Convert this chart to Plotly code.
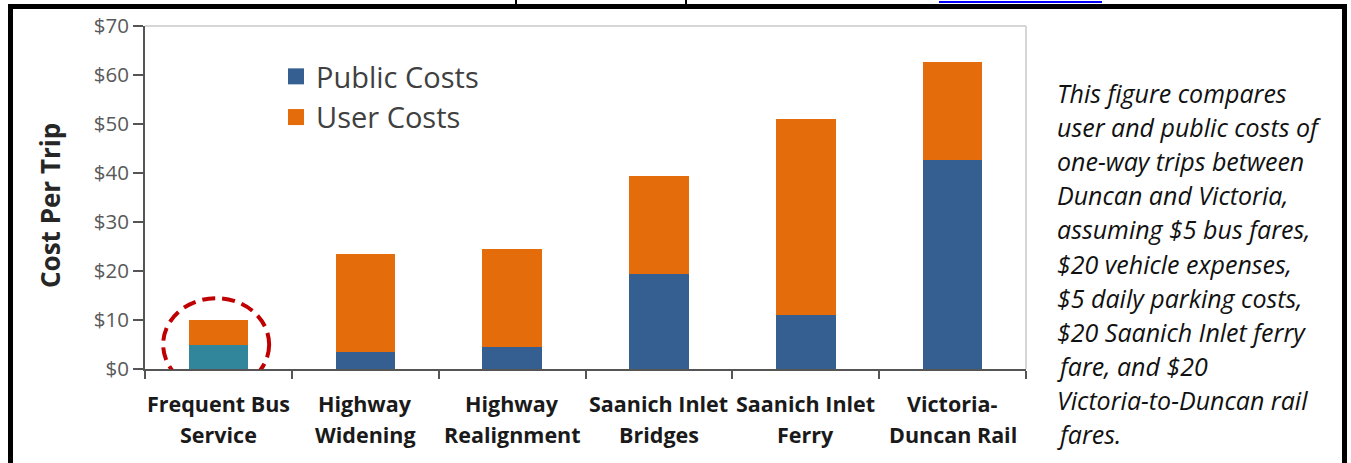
import plotly.graph_objects as go

W, H = 1351, 463

categories = ["Frequent Bus Service", "Highway Widening", "Highway Realignment",
              "Saanich Inlet Bridges", "Saanich Inlet Ferry", "Victoria-Duncan Rail"]
label_line1 = ["Frequent Bus", "Highway", "Highway", "Saanich Inlet", "Saanich Inlet", "Victoria-"]
label_line2 = ["Service", "Widening", "Realignment", "Bridges", "Ferry", "Duncan Rail"]
public_costs = [5.0, 3.6, 4.5, 19.4, 11.1, 42.7]
user_costs = [5.0, 20.0, 20.0, 20.0, 40.0, 20.0]
y_ticks = [0, 10, 20, 30, 40, 50, 60, 70]

note_lines = [
    "This figure compares",
    "user and public costs of",
    "one-way trips between",
    "Duncan and Victoria,",
    "assuming $5 bus fares,",
    "$20 vehicle expenses,",
    "$5 daily parking costs,",
    "$20 Saanich Inlet ferry",
    "fare, and $20",
    "Victoria-to-Duncan rail",
    "fares.",
]

BLUE = "#365F91"
TEAL = "#31869B"
ORANGE = "#E46C0A"
FONT = "Open Sans"


def px(x):
    return x / W


def py(y):
    return 1 - y / H


public_colors = [TEAL] + [BLUE] * (len(categories) - 1)

fig = go.Figure()
fig.add_trace(go.Bar(x=categories, y=public_costs, marker=dict(color=public_colors, line=dict(width=0)),
                     name="Public Costs", showlegend=False))
fig.add_trace(go.Bar(x=categories, y=user_costs, marker=dict(color=ORANGE, line=dict(width=0)),
                     name="User Costs", showlegend=False))
# legend proxies
fig.add_trace(go.Scatter(x=[None], y=[None], mode="markers", name="Public Costs", legendgroup="a",
                         marker=dict(symbol="square", size=17, color=BLUE)))
fig.add_trace(go.Scatter(x=[None], y=[None], mode="markers", name="User Costs", legendgroup="b",
                         marker=dict(symbol="square", size=17, color=ORANGE)))

annotations = []
for c, l1, l2 in zip(categories, label_line1, label_line2):
    annotations.append(dict(x=c, xref="x", y=py(403), yref="paper", text="<b>%s</b>" % l1,
                            showarrow=False, font=dict(family=FONT, size=21.5, color="#1a1a1a"),
                            xanchor="center", yanchor="middle"))
    annotations.append(dict(x=c, xref="x", y=py(434), yref="paper", text="<b>%s</b>" % l2,
                            showarrow=False, font=dict(family=FONT, size=21.5, color="#1a1a1a"),
                            xanchor="center", yanchor="middle"))

annotations.append(dict(x=px(50), y=py(206), xref="paper", yref="paper", text="<b>Cost Per Trip</b>",
                        textangle=-90, showarrow=False, font=dict(family=FONT, size=26, color="#262626"),
                        xanchor="center", yanchor="middle"))

for i, line in enumerate(note_lines):
    annotations.append(dict(x=px(1055), y=py(93 + i * 34.1), xref="paper", yref="paper", text="<i>%s</i>" % line,
                            showarrow=False, font=dict(family=FONT, size=25, color="#111111"),
                            xanchor="left", yanchor="middle"))

shapes = [
    # light gray top/right border of plot area
    dict(type="line", xref="paper", yref="paper", x0=px(145), x1=px(1026), y0=py(26), y1=py(26),
         line=dict(color="#C8C8C8", width=1.5)),
    dict(type="line", xref="paper", yref="paper", x0=px(1026), x1=px(1026), y0=py(26), y1=py(369),
         line=dict(color="#C8C8C8", width=1.5)),
    # highlight ellipse around the bus bar
    dict(type="circle", xref="x", yref="y", x0=-0.377, x1=0.345, y0=-4.4, y1=14.5,
         line=dict(color="#C00000", width=4, dash="13px,7px")),
    # outer frame
    dict(type="line", xref="paper", yref="paper", x0=px(8), x1=px(1347), y0=py(6.5), y1=py(6.5),
         line=dict(color="black", width=5)),
    dict(type="line", xref="paper", yref="paper", x0=px(10.5), x1=px(10.5), y0=py(4), y1=py(470),
         line=dict(color="black", width=5)),
    dict(type="line", xref="paper", yref="paper", x0=px(1344.5), x1=px(1344.5), y0=py(4), y1=py(470),
         line=dict(color="black", width=5)),
    # fragments of the cut-off caption above the frame
    dict(type="line", xref="paper", yref="paper", x0=px(939), x1=px(1102), y0=py(2), y1=py(2),
         line=dict(color="#0000FF", width=2)),
    dict(type="line", xref="paper", yref="paper", x0=px(516), x1=px(516), y0=py(0), y1=py(4),
         line=dict(color="black", width=2)),
    dict(type="line", xref="paper", yref="paper", x0=px(686), x1=px(686), y0=py(0), y1=py(4),
         line=dict(color="black", width=2)),
]

fig.update_layout(
    width=W, height=H,
    margin=dict(l=0, r=0, t=0, b=0, pad=0, autoexpand=False),
    paper_bgcolor="white", plot_bgcolor="white",
    barmode="stack", bargap=0.595,
    font=dict(family=FONT),
    showlegend=True,
    legend=dict(x=px(276), y=py(51), xanchor="left", yanchor="top", bgcolor="rgba(0,0,0,0)",
                font=dict(family=FONT, size=29, color="#404040"), tracegroupgap=0,
                itemclick=False, itemdoubleclick=False),
    xaxis=dict(domain=[px(145), px(1026)], type="category", showticklabels=False, automargin=False,
               showline=True, linecolor="#555555", linewidth=2,
               ticks="outside", tickson="boundaries", ticklen=8, tickwidth=2, tickcolor="#555555",
               showgrid=False, zeroline=False, fixedrange=True),
    yaxis=dict(domain=[py(369.3), py(26)], range=[0, 70], tickvals=y_ticks, automargin=False,
               ticktext=["$%d" % v for v in y_ticks],
               showline=True, linecolor="#555555", linewidth=2,
               ticks="outside", ticklen=10, tickwidth=2, tickcolor="#555555",
               tickfont=dict(family=FONT, size=20.5, color="#595959"),
               showgrid=False, zeroline=False, fixedrange=True),
    annotations=annotations,
    shapes=shapes,
)

fig.write_html("out.html", config=dict(displayModeBar=False))
